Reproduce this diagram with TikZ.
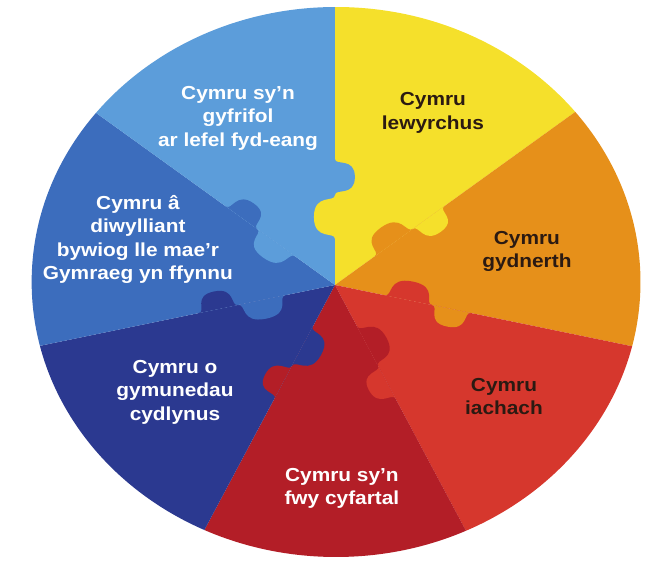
\documentclass[tikz,border=0pt]{standalone}
\usepackage{fontspec}
\setmainfont{Liberation Sans}
\definecolor{seg-yellow}{HTML}{F5E02B}
\definecolor{seg-orange}{HTML}{E6901A}
\definecolor{seg-red}{HTML}{D6372D}
\definecolor{seg-darkred}{HTML}{B31E27}
\definecolor{seg-navy}{HTML}{2B3990}
\definecolor{seg-blue}{HTML}{3C6DBD}
\definecolor{seg-lightblue}{HTML}{5C9DDA}
\definecolor{seg-text}{HTML}{2B1A12}

\begin{document}
\begin{tikzpicture}[x=0.025cm, y=0.025cm, xscale=1.107,
        every node/.style={font={\fontsize{13.4}{16.7}\selectfont\bfseries},
          align=center, transform shape}]
      \useasboundingbox (-302.6,-276) rectangle (285.5,285);
      % the seven wedges
      \begin{scope}
        \clip (1,3) circle (275);
        \foreach \a/\col in {38.57/seg-yellow, -12.86/seg-orange,
            -64.29/seg-red, -115.71/seg-darkred, -167.14/seg-navy,
            141.43/seg-blue, 90/seg-lightblue}
          \fill[\col] (0,0) -- (\a:400) -- ({\a+51.43}:400) -- cycle;
      \end{scope}
      % puzzle knobs on every edge
      \foreach \a/\cw/\ccw in {90/seg-yellow/seg-lightblue,
          38.57/seg-orange/seg-yellow, -12.86/seg-red/seg-orange,
          -64.29/seg-darkred/seg-red, -115.71/seg-navy/seg-darkred,
          -167.14/seg-blue/seg-navy, 141.43/seg-lightblue/seg-blue}{
        \begin{scope}[rotate=\a]
          \fill[\cw] (46,0) .. controls (54,0) and (44,19) .. (68,19)
            .. controls (92,19) and (82,0) .. (90,0) -- cycle;
          \fill[\ccw] (90,0) .. controls (97,0) and (88,-18) .. (108,-18)
            .. controls (128,-18) and (119,0) .. (126,0) -- cycle;
        \end{scope}
      }
      \node[text=seg-text] (lewyrchus) at (88.5,172) {Cymru\\lewyrchus};
      \node[text=seg-text] (gydnerth) at (173.4,33.5) {Cymru\\gydnerth};
      \node[text=seg-text] (iachach) at (152.7,-111.5) {Cymru\\iachach};
      \node[text=white] (cyfartal) at (6.3,-203.5) {Cymru sy’n\\fwy cyfartal};
      \node[text=white] (cydlynus) at (-144.5,-107) {Cymru o\\gymunedau\\cydlynus};
      \node[text=white] (diwylliant) at (-178,45.5)
        {Cymru â\\diwylliant\\bywiog lle mae’r\\Gymraeg yn ffynnu};
      \node[text=white] (fydeang) at (-87.6,167) {Cymru sy’n\\gyfrifol\\ar lefel fyd-eang};
    \end{tikzpicture}
\end{document}
